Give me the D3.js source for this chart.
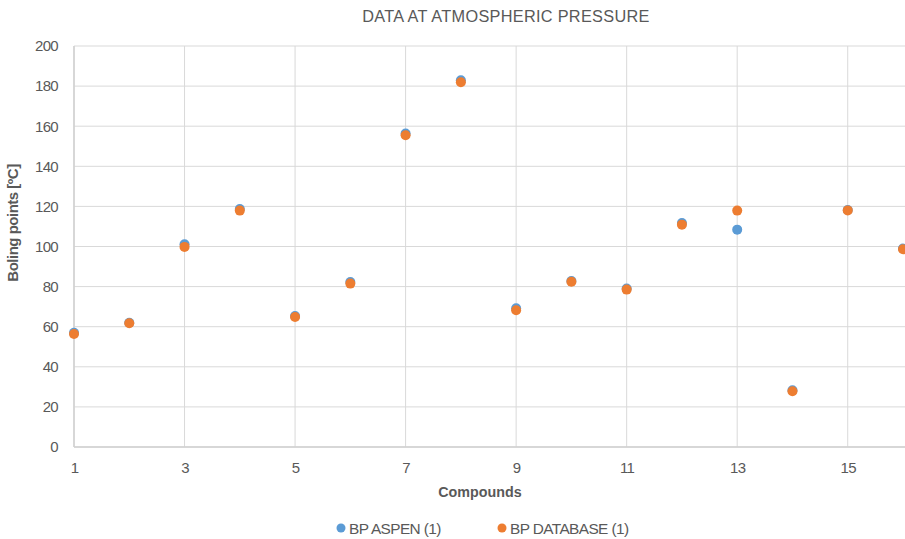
<!DOCTYPE html>
<html>
<head>
<meta charset="utf-8">
<script src="https://cdn.jsdelivr.net/npm/d3@7"></script>
<style>
  body { margin: 0; background: #fff; }
  svg text { font-family: "Liberation Sans", Arial, sans-serif; fill: #595959; }
</style>
</head>
<body>
<svg id="chart" width="905" height="539"></svg>
<script>
'use strict';
// compound numbers and boiling points
var compounds = [1, 2, 3, 4, 5, 6, 7, 8, 9, 10, 11, 12, 13, 14, 15, 16];
var bpAspen    = [57, 62, 101.1, 118.7, 65.3, 82.3, 156.3, 182.9, 69.2, 82.8, 79, 111.7, 108.4, 28.3, 118.2, 99];
var bpDatabase = [56.4, 61.7, 99.8, 117.9, 64.8, 81.5, 155.5, 181.9, 68.2, 82.4, 78.5, 110.9, 117.9, 27.8, 118, 98.6];
var xTicks = [1, 3, 5, 7, 9, 11, 13, 15];
var yTicks = [0, 20, 40, 60, 80, 100, 120, 140, 160, 180, 200];
var seriesNames = ['BP ASPEN (1)', 'BP DATABASE (1)'];
var seriesColors = ['#5b9bd5', '#ed7d31'];

var svg = d3.select('#chart'),
    x = d3.scaleLinear().domain([1, 16]).range([74, 903]),
    y = d3.scaleLinear().domain([0, 200]).range([447, 46]);

// gridlines
svg.append('g').selectAll('line').data(yTicks).enter().append('line')
    .attr('x1', 74).attr('x2', 905)
    .attr('y1', function (d) { return y(d); }).attr('y2', function (d) { return y(d); })
    .attr('stroke', '#d9d9d9').attr('stroke-width', 1);
svg.append('g').selectAll('line').data(xTicks).enter().append('line')
    .attr('x1', function (d) { return x(d); }).attr('x2', function (d) { return x(d); })
    .attr('y1', y(200)).attr('y2', y(0))
    .attr('stroke', '#d9d9d9').attr('stroke-width', 1);

// axes, only the labels are kept
var yAxis = svg.append('g').attr('transform', 'translate(74,0)')
    .call(d3.axisLeft(y).tickValues(yTicks).tickSize(0).tickPadding(16));
var xAxis = svg.append('g').attr('transform', 'translate(0,447)')
    .call(d3.axisBottom(x).tickValues(xTicks).tickSize(0).tickPadding(15));
[yAxis, xAxis].forEach(function (a) {
    a.select('.domain').remove();
    a.selectAll('text').attr('font-size', 15).attr('font-family', null)
        .attr('letter-spacing', -0.7).attr('fill', '#595959');
});
svg.append('line').attr('x1', 74).attr('x2', 74).attr('y1', y(200)).attr('y2', y(0))
    .attr('stroke', '#d0d0d0').attr('stroke-width', 1.5);
svg.append('line').attr('x1', 74).attr('x2', 905).attr('y1', y(0)).attr('y2', y(0))
    .attr('stroke', '#d0d0d0').attr('stroke-width', 1.5);

// points
[bpAspen, bpDatabase].forEach(function (vals, i) {
    svg.append('g').selectAll('circle').data(vals).enter().append('circle')
        .attr('cx', function (d, j) { return x(compounds[j]); })
        .attr('cy', function (d) { return y(d); })
        .attr('r', 5)
        .attr('fill', seriesColors[i]);
});

// titles
svg.append('text').attr('x', 506).attr('y', 22).attr('text-anchor', 'middle')
    .attr('font-size', 16.3).attr('letter-spacing', 0.3).text('DATA AT ATMOSPHERIC PRESSURE');
svg.append('text').attr('x', 480).attr('y', 497).attr('text-anchor', 'middle')
    .attr('font-size', 14.3).attr('font-weight', 'bold').text('Compounds');
svg.append('text').attr('transform', 'translate(18,223) rotate(-90)').attr('text-anchor', 'middle')
    .attr('font-size', 15).attr('font-weight', 'bold').attr('letter-spacing', -0.5)
    .text('Boling points [ºC]');

// legend
var legendX = [341, 502];
seriesNames.forEach(function (name, i) {
    var g = svg.append('g').attr('transform', 'translate(' + legendX[i] + ',528)');
    g.append('circle').attr('r', 4.5).attr('fill', seriesColors[i]);
    g.append('text').attr('x', 8).attr('y', 5.5).attr('font-size', 15.4)
        .attr('letter-spacing', -0.6).text(name);
});
</script>
</body>
</html>
